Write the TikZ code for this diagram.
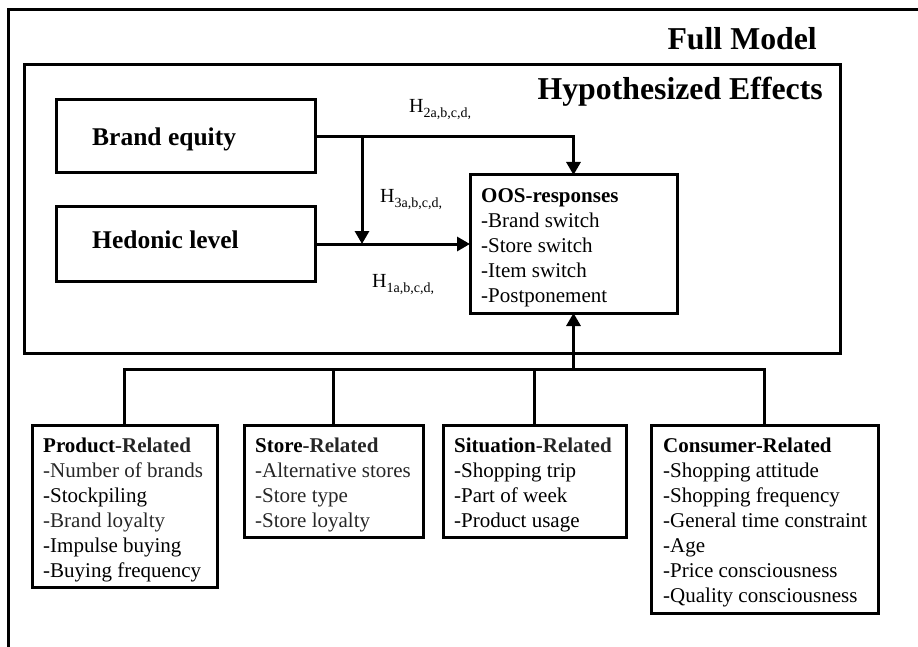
\documentclass[tikz,border=0pt]{standalone}
\usepackage{fontspec}
\setmainfont{Liberation Serif}
\usetikzlibrary{arrows.meta}
\definecolor{dg}{gray}{0.15}
\newcommand\hypl[1]{H\raisebox{-5pt}{\fontsize{14}{14}\selectfont #1}}
\begin{document}
\begin{tikzpicture}[x=1pt,y=-1pt,
  frame/.style={line width=3pt},
  box/.style={draw, line width=3pt, anchor=north west, inner sep=0pt, outer sep=0pt},
  conn/.style={line width=3pt},
  arr/.style={line width=3pt, -{Triangle[width=14pt,length=13pt]}},
  txt/.style={anchor=base west, inner sep=0pt, font=\fontsize{21}{25}\selectfont},
  head/.style={anchor=base west, inner sep=0pt, font=\bfseries\fontsize{25.5}{30}\selectfont},
  title/.style={anchor=base east, inner sep=0pt, font=\bfseries\fontsize{31.8}{36}\selectfont},
  hlab/.style={anchor=base west, inner sep=0pt, font=\fontsize{20}{24}\selectfont}
]
\path[use as bounding box] (0,0) rectangle (918,647);
% outer frame (only left and top visible)
\draw[frame] (8,650) -- (8,10) -- (921,10);
\node[title] (full) at (817,50) {Full Model};
% inner frame
\node[box, minimum width=816pt, minimum height=288pt] (inner) at (24,65) {};
\node[title] (hyp) at (823,100) {Hypothesized Effects};
% top boxes
\node[box, minimum width=259pt, minimum height=73pt] (be) at (56,100) {};
\node[head] (betxt) at (92,146) {Brand equity};
\node[box, minimum width=259pt, minimum height=74pt] (hed) at (56,207) {};
\node[head] (hedtxt) at (92,248) {Hedonic level};
\node[box, minimum width=207pt, minimum height=138pt] (oos) at (470,175) {};
\node[txt] (oostxt) at (481,203) {\begin{tabular}[t]{@{}l@{}}\textbf{OOS-responses}\\-Brand switch\\-Store switch\\-Item switch\\-Postponement\end{tabular}};
% hypotheses connectors
\coordinate (j) at ([xshift=47pt]be.east);
\draw[arr] (be.east) -| (oos.north);
\draw[arr] (hed.east) -- (oos.west);
\draw[arr] (j) -- (j |- hed.east);
\node[hlab] (h2) at (409,113) {\hypl{2a,b,c,d,}};
\node[hlab] (h3) at (380,203) {\hypl{3a,b,c,d,}};
\node[hlab] (h1) at (372,287) {\hypl{1a,b,c,d,}};
% bottom boxes
\node[box, minimum width=185pt, minimum height=162pt] (prod) at (32,425) {};
\node[txt] (prodtxt) at (43,452) {\begin{tabular}[t]{@{}l@{}}\textbf{Product{\color{dg}-Related}}\\{\color{dg}-Number of brands}\\-Stockpiling\\{\color{dg}-Brand loyalty}\\-Impulse buying\\-Buying frequency\end{tabular}};
\node[box, minimum width=179pt, minimum height=112pt] (store) at (244,425) {};
\node[txt] (storetxt) at (255,452) {\begin{tabular}[t]{@{}l@{}}\textbf{Store{\color{dg}-Related}}\\{\color{dg}-Alternative stores}\\{\color{dg}-Store type}\\{\color{dg}-Store loyalty}\end{tabular}};
\node[box, minimum width=183pt, minimum height=112pt] (sit) at (443,425) {};
\node[txt] (sittxt) at (454,452) {\begin{tabular}[t]{@{}l@{}}\textbf{Situation{\color{dg}-Related}}\\-Shopping trip\\-Part of week\\-Product usage\end{tabular}};
\node[box, minimum width=227pt, minimum height=188pt] (cons) at (651,425) {};
\node[txt] (constxt) at (663,452) {\begin{tabular}[t]{@{}l@{}}\textbf{Consumer-Related}\\-Shopping attitude\\-Shopping frequency\\-General time constraint\\-Age\\-Price consciousness\\-Quality consciousness\end{tabular}};
% bus to OOS
\path (oos.south) ++(0,56) coordinate (bus);
\draw[conn] (prod.north) |- (bus) -| (cons.north);
\draw[conn] (store.north) -- (store.north |- bus);
\draw[conn] (sit.north) -- (sit.north |- bus);
\draw[arr] (bus) -- (oos.south);
\end{tikzpicture}
\end{document}
